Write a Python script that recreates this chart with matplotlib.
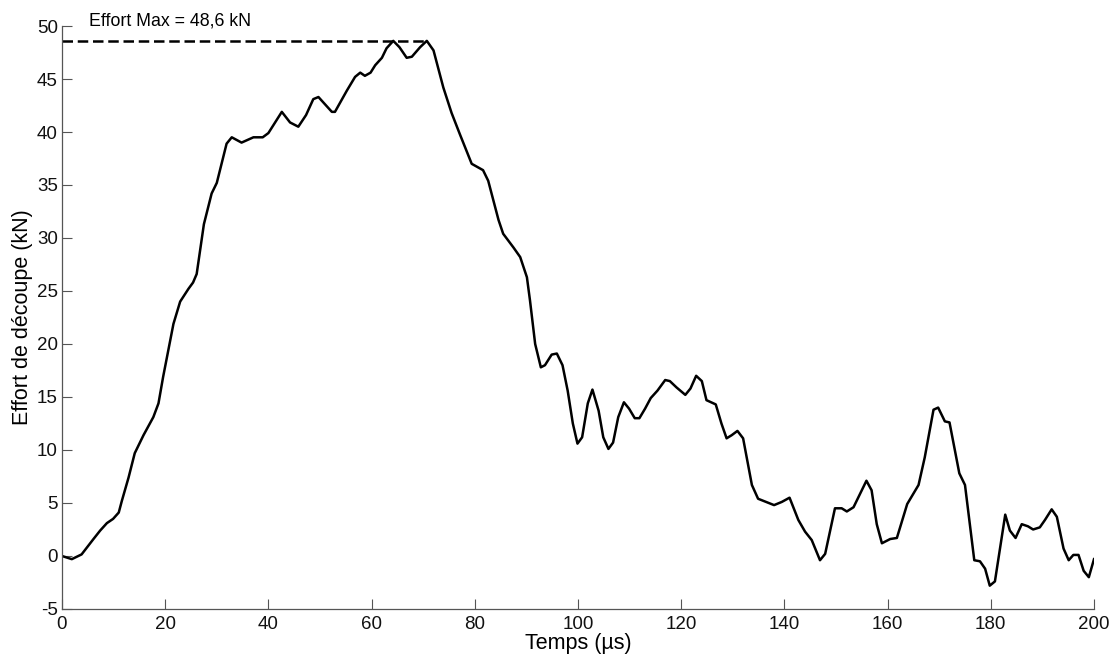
import matplotlib
matplotlib.use("Agg")
import matplotlib.pyplot as plt

plt.rcParams['font.family'] = ['Liberation Sans', 'DejaVu Sans']
plt.rcParams['axes.unicode_minus'] = False

time_us = [0.0, 1.9, 3.8, 6.1, 7.4, 8.7, 9.9, 11.0, 11.6, 12.9, 14.1, 15.8, 17.7, 18.7, 19.6,
           20.6, 21.6, 22.9, 24.5, 25.4, 26.1, 27.5, 29.0, 30.0, 31.9, 32.9, 34.8, 37.1,
           38.9, 40.0, 42.6, 44.2, 45.8, 47.3, 48.7, 49.7, 52.3, 52.9, 55.2, 56.8, 57.8,
           58.7, 59.8, 60.7, 62.0, 62.9, 64.2, 65.4, 66.8, 67.8, 69.4, 70.7, 72.0, 73.9,
           75.5, 77.1, 79.4, 81.6, 82.6, 84.6, 85.5, 87.5, 88.8, 90.1, 90.7, 91.7, 92.8,
           93.6, 94.9, 95.9, 97.0, 98.0, 99.0, 99.9, 100.8, 101.9, 102.8, 104.0, 104.9,
           105.9, 106.8, 107.8, 108.9, 109.9, 111.0, 111.9, 113.0, 114.1, 115.4, 116.9,
           117.8, 119.1, 120.8, 121.8, 122.9, 124.0, 124.9, 126.7, 127.8, 128.8, 129.8,
           130.9, 132.0, 133.7, 134.9, 138.0, 139.5, 141.0, 142.7, 144.0, 145.3, 146.9,
           147.9, 149.8, 151.1, 152.1, 153.4, 155.9, 156.9, 157.9, 158.9, 160.5, 161.8,
           163.8, 166.0, 167.2, 168.9, 169.8, 171.1, 172.0, 173.9, 175.0, 176.8, 177.9,
           178.9, 179.8, 180.8, 182.8, 183.7, 184.8, 186.0, 187.2, 188.2, 189.5, 190.5,
           191.8, 192.8, 194.1, 195.1, 196.0, 197.0, 198.0, 199.0, 200.0]
effort_kN = [0.0, -0.3, 0.15, 1.6, 2.4, 3.1, 3.5, 4.1, 5.2, 7.4, 9.7, 11.4, 13.1, 14.4, 16.9,
             19.4, 21.9, 24.0, 25.2, 25.8, 26.6, 31.3, 34.2, 35.2, 38.9, 39.5, 39.0, 39.5,
             39.5, 39.9, 41.9, 40.9, 40.5, 41.6, 43.1, 43.3, 41.9, 41.9, 43.9, 45.2, 45.6,
             45.3, 45.6, 46.3, 47.0, 47.9, 48.6, 48.0, 47.0, 47.1, 48.0, 48.6, 47.7, 44.2,
             41.8, 39.8, 37.0, 36.4, 35.4, 31.7, 30.4, 29.1, 28.2, 26.3, 24.1, 20.0, 17.8,
             18.0, 19.0, 19.1, 18.0, 15.6, 12.5, 10.6, 11.2, 14.4, 15.7, 13.7, 11.2,
             10.1, 10.7, 13.1, 14.5, 13.9, 13.0, 13.0, 13.9, 14.9, 15.6, 16.6,
             16.5, 15.9, 15.2, 15.8, 17.0, 16.5, 14.7, 14.3, 12.5, 11.1, 11.4,
             11.8, 11.1, 6.7, 5.4, 4.8, 5.1, 5.5, 3.4, 2.3, 1.5, -0.4,
             0.2, 4.5, 4.5, 4.2, 4.6, 7.1, 6.2, 3.0, 1.2, 1.6, 1.7,
             4.9, 6.7, 9.3, 13.8, 14.0, 12.7, 12.6, 7.8, 6.7, -0.4, -0.5,
             -1.2, -2.8, -2.4, 3.9, 2.4, 1.7, 3.0, 2.8, 2.5, 2.7, 3.4,
             4.4, 3.7, 0.7, -0.4, 0.1, 0.1, -1.4, -2.0, -0.3]

effort_max = 48.6
t_max = 70.7
x_ticks = [0, 20, 40, 60, 80, 100, 120, 140, 160, 180, 200]
y_ticks = [-5, 0, 5, 10, 15, 20, 25, 30, 35, 40, 45, 50]

fig = plt.figure(figsize=(11.17, 6.6), dpi=100)
ax = fig.add_axes([0.0555, 0.0773, 0.9239, 0.8833])

ax.plot(time_us, effort_kN, color='black', linewidth=1.8, solid_joinstyle='round')
ax.plot([0, t_max], [effort_max, effort_max], color='black', linewidth=1.8,
        linestyle=(0, (4.2, 1.9)))
ax.text(5.2, 50.45, 'Effort Max = 48,6 kN', fontsize=12.8, ha='left', va='center')

ax.set_xlim(0, 200)
ax.set_ylim(-5, 50)
ax.set_xticks(x_ticks)
ax.set_yticks(y_ticks)
ax.tick_params(direction='in', length=7, width=0.8, color='#555555', labelsize=13.5,
               labelcolor='#111111')
ax.tick_params(axis='x', pad=5)
ax.tick_params(axis='y', pad=3)
for s in ['top', 'right']:
    ax.spines[s].set_visible(False)
for s in ['left', 'bottom']:
    ax.spines[s].set_color('#555555')
    ax.spines[s].set_linewidth(0.9)

ax.set_xlabel('Temps (µs)', fontsize=15.5, labelpad=0)
ax.set_ylabel('Effort de découpe (kN)', fontsize=15.5, labelpad=3)

fig.savefig('out.png', dpi=100)
